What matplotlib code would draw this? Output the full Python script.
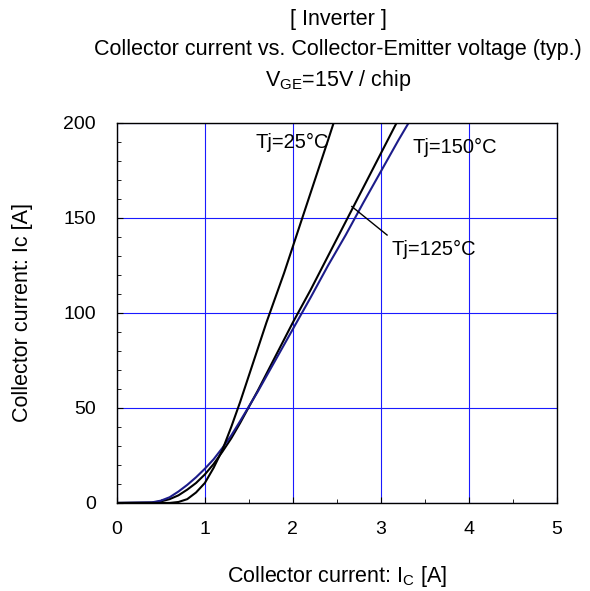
import numpy as np
import matplotlib
matplotlib.use("Agg")
import matplotlib.pyplot as plt

plt.rcParams['font.family'] = ['Liberation Sans', 'DejaVu Sans']
plt.rcParams['mathtext.default'] = 'regular'

# Tj = 25 degC
v25 = [0.0, 0.6, 0.7, 0.8, 0.9, 1.0, 1.1, 1.2, 1.3, 1.4, 1.5, 1.6, 1.7, 1.8, 1.9, 2.0, 2.1, 2.2, 2.3, 2.4, 2.47]
i25 = [0.0, 0.0, 0.5, 2.0, 5.5, 10.5, 18.5, 28, 40, 53, 67, 81, 95, 108, 121, 135, 149, 163, 177, 191, 201]

# Tj = 125 degC
v125 = [0.0, 0.4, 0.5, 0.6, 0.7, 0.8, 0.9, 1.0, 1.1, 1.2, 1.3, 1.4, 1.6, 1.8, 2.0, 2.2, 2.4, 2.6, 2.8, 3.0, 3.2]
i125 = [0.0, 0.2, 0.8, 2.0, 4.0, 7.0, 10.5, 15, 20.5, 27, 34, 42, 59, 77, 95, 112, 130, 148, 166, 184, 202]

# Tj = 150 degC
v150 = [0.0, 0.4, 0.5, 0.6, 0.7, 0.8, 0.9, 1.0, 1.1, 1.2, 1.3, 1.4, 1.6, 1.8, 2.0, 2.2, 2.4, 2.6, 2.8, 3.0, 3.2, 3.34]
i150 = [0.0, 0.3, 1.2, 3.0, 6.0, 9.5, 13.5, 18, 23, 29, 35.5, 43, 58.5, 75, 91.5, 108, 125, 141, 158, 174.5, 191, 202]

xticks = [0, 1, 2, 3, 4, 5]
yticks = [0, 50, 100, 150, 200]

fig = plt.figure(figsize=(5.9, 5.91), dpi=100)
ax = fig.add_axes([0.198, 0.149, 0.746, 0.643])

ax.plot(v125, i125, color='black', lw=1.5)
ax.plot(v150, i150, color='#1c1c8a', lw=1.5)
ax.plot(v25, i25, color='black', lw=1.5)

ax.set_xlim(0, 5)
ax.set_ylim(0, 200)
ax.set_xticks(xticks)
ax.set_yticks(yticks)
ax.set_xticks(np.arange(0, 5.01, 0.5), minor=True)
ax.set_yticks(np.arange(0, 201, 10), minor=True)
ax.tick_params(which='both', direction='in', labelsize=14, top=False, right=False)
ax.tick_params(which='major', length=4)
ax.tick_params(which='minor', length=3)
ax.tick_params(axis='x', which='major', pad=13)
ax.tick_params(axis='y', which='major', pad=15)
ax.grid(True, which='major', color='#1a1aff', lw=0.8)
for s in ax.spines.values():
    s.set_linewidth(1.0)

# curve labels
ax.text(1.57, 186.8, 'Tj=25°C', fontsize=14.5, va='baseline')
ax.text(3.36, 184, 'Tj=150°C', fontsize=14.5, va='baseline')
ax.text(3.12, 130.5, 'Tj=125°C', fontsize=14.5, va='baseline')
ax.plot([2.67, 3.07], [156, 141], color='black', lw=1.0)

ax.set_xlabel('Collector current: I$_\\mathregular{C}$ [A]', fontsize=15.5)
ax.set_ylabel('Collector current: Ic [A]', fontsize=15.5)
ax.xaxis.set_label_coords(0.5, -0.16)
ax.yaxis.set_label_coords(-0.19, 0.5)

fig.text(0.573, 0.958, '[ Inverter ]', fontsize=15.5, ha='center', va='baseline')
fig.text(0.573, 0.907, 'Collector current vs. Collector-Emitter voltage (typ.)', fontsize=15.5, ha='center', va='baseline')
fig.text(0.573, 0.854, 'V$_\\mathregular{GE}$=15V / chip', fontsize=15.5, ha='center', va='baseline')

fig.savefig('out.png', dpi=100)
